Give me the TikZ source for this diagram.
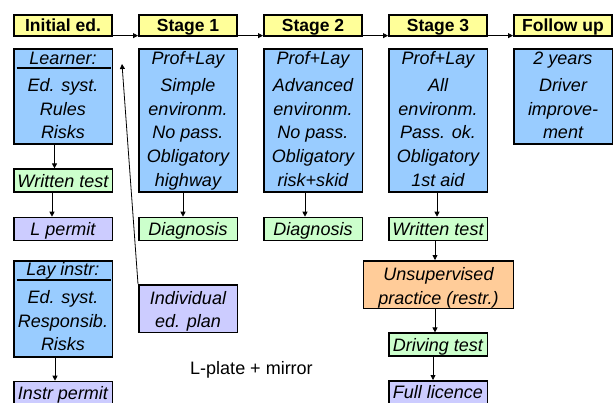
\documentclass[tikz,border=0pt]{standalone}
\usepackage{fontspec}
\setmainfont{Liberation Sans}
\usetikzlibrary{arrows.meta}
\definecolor{hdr}{HTML}{FFFF99}
\definecolor{blu}{HTML}{99CCFF}
\definecolor{grn}{HTML}{CCFFCC}
\definecolor{lav}{HTML}{CCCCFF}
\definecolor{org}{HTML}{FFCC99}
\begin{document}
\begin{tikzpicture}[x=1pt,y=-1pt,
  base/.style={draw=black, line width=1.5pt, anchor=north, inner xsep=0pt, inner ysep=0pt,
    minimum width=98.5pt, minimum height=0pt, align=center,
    font=\fontsize{18}{23.6}\selectfont\itshape},
  hdrbox/.style={base, fill=hdr, line width=2pt, minimum width=98pt,
    font=\fontsize{17.5}{21}\selectfont\bfseries, text height=16.7pt, text depth=4pt},
  bluebox/.style={base, fill=blu},
  onebox/.style={base, text height=18pt, text depth=5pt},
  grnbox/.style={onebox, fill=grn},
  lavbox/.style={onebox, fill=lav},
  arr/.style={line width=0.8pt, -{Triangle[length=5pt,width=5pt]}},
  sep/.style={line width=2pt}
]
\useasboundingbox (0,0) rectangle (615,403);

% headers
\node[hdrbox] (h0) at (63,14.3) {Initial ed.};
\node[hdrbox] (h1) at (188,14.3) {Stage 1};
\node[hdrbox] (h2) at (313,14.3) {Stage 2};
\node[hdrbox] (h3) at (438,14.3) {Stage 3};
\node[hdrbox] (h4) at (563,14.3) {Follow up};

% blue boxes (text height = top to last baseline)
\node[bluebox, text height=89.7pt, text depth=5.3pt] (b0) at (63,48.5)
  {Learner:\\[3.9pt]Ed. syst.\\Rules\\Risks};
\node[bluebox, text height=136.9pt, text depth=6.1pt] (b1) at (188,48.5)
  {Prof+Lay\\[3.9pt]Simple\\environm.\\No pass.\\Obligatory\\highway};
\node[bluebox, text height=136.9pt, text depth=6.1pt] (b2) at (313,48.5)
  {Prof+Lay\\[3.9pt]Advanced\\environm.\\No pass.\\Obligatory\\risk+skid};
\node[bluebox, text height=136.9pt, text depth=6.1pt] (b3) at (438,48.5)
  {Prof+Lay\\[3.9pt]All\\environm.\\Pass. ok.\\Obligatory\\1st aid};
\node[bluebox, text height=89.7pt, text depth=5.3pt] (b4) at (563,48.5)
  {2 years\\[3.9pt]Driver\\improve-\\ment};
\draw[sep] (16.7,67.7) -- (110.7,67.7);

% second row
\node[grnbox] (wt0) at (63,168.4) {Written test};
\node[lavbox] (lp) at (63,216.7) {L permit};
\node[grnbox] (dg1) at (188,216.7) {Diagnosis};
\node[grnbox] (dg2) at (313,216.7) {Diagnosis};
\node[grnbox] (wt3) at (438,216.7) {Written test};

% lower part
\node[bluebox, text height=89.9pt, text depth=6.1pt] (li) at (63,260)
  {Lay instr:\\[4.1pt]Ed. syst.\\Responsib.\\Risks};
\draw[sep] (16.7,280) -- (110.7,280);
\node[lavbox] (ip) at (63,380.7) {Instr permit};
\node[base, fill=lav, text height=42.9pt, text depth=4.6pt] (iep) at (188,284)
  {Individual\\ed. plan};
\node[base, fill=org, minimum width=150pt, text height=43.6pt, text depth=3.9pt] (up) at (438.5,260)
  {Unsupervised\\practice (restr.)};
\node[grnbox] (dt) at (438,332.4) {Driving test};
\node[lavbox] (fl) at (438,380) {Full licence};

\node[anchor=base, inner sep=0pt, font=\fontsize{18}{22}\selectfont] (lbl) at (251.5,374) {L-plate + mirror};

% header arrows
\draw[arr] ([yshift=-10pt]h0.east) -- ([yshift=-10pt]h1.west);
\draw[arr] ([yshift=-10pt]h1.east) -- ([yshift=-10pt]h2.west);
\draw[arr] ([yshift=-10pt]h2.east) -- ([yshift=-10pt]h3.west);
\draw[arr] ([yshift=-10pt]h3.east) -- ([yshift=-10pt]h4.west);

% vertical arrows
\draw[arr] ([xshift=-8.5pt]b0.south) -- ([xshift=-8.5pt]wt0.north);
\draw[arr] ([xshift=-11pt]wt0.south) -- ([xshift=-11pt]lp.north);
\draw[arr] ([xshift=-5pt]b1.south) -- ([xshift=-5pt]dg1.north);
\draw[arr] ([xshift=-8pt]b2.south) -- ([xshift=-8pt]dg2.north);
\draw[arr] ([xshift=-1pt]b3.south) -- ([xshift=-1pt]wt3.north);
\draw[arr] ([xshift=-3pt]wt3.south) -- ([xshift=-3pt]wt3.south |- up.north);
\draw[arr] ([xshift=-3.5pt]up.south) -- ([xshift=-3.5pt]up.south |- dt.north);
\draw[arr] ([xshift=-5pt]dt.south) -- ([xshift=-5pt]fl.north);
\draw[arr] ([xshift=-8pt]li.south) -- ([xshift=-8pt]ip.north);

% feedback line
\coordinate (tip) at (122,64);
\draw[arr] (iep.north west) -- (tip);
\end{tikzpicture}
\end{document}
